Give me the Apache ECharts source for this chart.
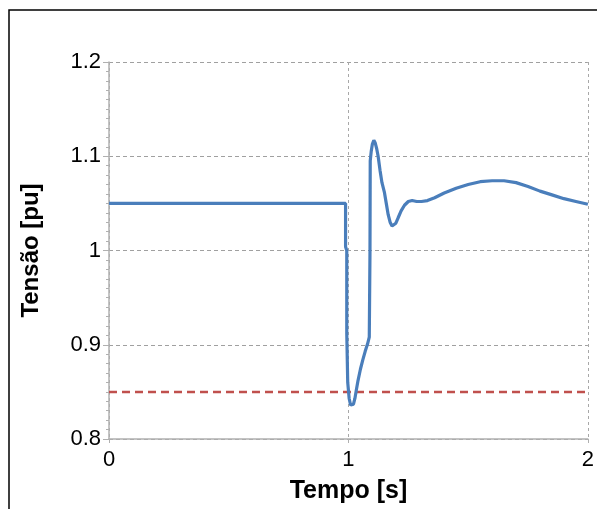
<!DOCTYPE html>
<html>
<head>
<meta charset="utf-8">
<script src="https://cdn.jsdelivr.net/npm/echarts@6/dist/echarts.min.js"></script>
<style>
  html, body { margin: 0; padding: 0; background: #fff; }
  #chart { width: 597px; height: 509px; }
</style>
</head>
<body>
<div id="chart"></div>
<script>
// Voltage response at the bus: time [s] and voltage [pu]
const tempo = [
  0, 0.988, 0.988, 0.993, 0.993, 0.997, 1.003, 1.009, 1.015, 1.021, 1.027, 1.033,
  1.040, 1.050, 1.060, 1.070, 1.080, 1.087, 1.090, 1.091, 1.095, 1.100, 1.106,
  1.112, 1.118, 1.124, 1.132, 1.140, 1.150, 1.158, 1.166, 1.174, 1.182, 1.190,
  1.198, 1.208, 1.220, 1.234, 1.250, 1.266, 1.285, 1.305, 1.330, 1.360, 1.400,
  1.450, 1.500, 1.550, 1.600, 1.650, 1.700, 1.750, 1.800, 1.850, 1.900, 1.950, 2.000
];
const tensao = [
  1.050, 1.050, 1.004, 1.000, 0.912, 0.860, 0.843, 0.836, 0.834, 0.837, 0.843, 0.852,
  0.862, 0.874, 0.884, 0.893, 0.901, 0.908, 1.000, 1.095, 1.105, 1.113, 1.117,
  1.114, 1.108, 1.100, 1.085, 1.072, 1.062, 1.050, 1.038, 1.030, 1.026, 1.026,
  1.029, 1.035, 1.042, 1.048, 1.052, 1.053, 1.052, 1.052, 1.053, 1.056, 1.061,
  1.066, 1.070, 1.073, 1.074, 1.074, 1.072, 1.068, 1.063, 1.059, 1.055, 1.052, 1.049
];
// Lower voltage limit
const limiteTempo = [0, 2];
const limiteTensao = [0.85, 0.85];

const xTicks = { min: 0, max: 2, interval: 1 };
const yTicks = { min: 0.8, max: 1.2, interval: 0.1 };

const curva = tempo.map((t, i) => [t, tensao[i]]);
const limite = limiteTempo.map((t, i) => [t, limiteTensao[i]]);

const FONT = '"Liberation Sans", Arial, sans-serif';
const chart = echarts.init(document.getElementById('chart'), null, { renderer: 'canvas' });

chart.setOption({
  animation: false,
  backgroundColor: '#fff',
  graphic: [{
    type: 'rect',
    shape: { x: 9, y: 10, width: 700, height: 600 },
    style: { fill: 'none', stroke: '#000', lineWidth: 1.5 },
    z: 0
  }],
  grid: { left: 109, right: 5, top: 62, bottom: 67 },
  xAxis: {
    type: 'value',
    min: xTicks.min, max: xTicks.max, interval: xTicks.interval,
    name: 'Tempo [s]',
    nameLocation: 'middle',
    nameGap: 40,
    nameTextStyle: { fontFamily: FONT, fontSize: 25, fontWeight: 'bold', color: '#000' },
    axisLine: { show: true, lineStyle: { color: '#b0b0b0', width: 1.5 } },
    axisTick: { show: true, length: 4, lineStyle: { color: '#b0b0b0' } },
    axisLabel: { fontFamily: FONT, fontSize: 22, color: '#000', margin: 10 },
    splitLine: { show: true, lineStyle: { color: '#a8a8a8', type: [3, 3], width: 1 } }
  },
  yAxis: {
    type: 'value',
    min: yTicks.min, max: yTicks.max, interval: yTicks.interval,
    name: 'Tensão [pu]',
    nameLocation: 'middle',
    nameGap: 66,
    nameTextStyle: { fontFamily: FONT, fontSize: 24, fontWeight: 'bold', color: '#000' },
    axisLine: { show: true, lineStyle: { color: '#b0b0b0', width: 1.5 } },
    axisTick: { show: true, length: 6, lineStyle: { color: '#b0b0b0' } },
    minorTick: { show: true, splitNumber: 10, length: 3, lineStyle: { color: '#b0b0b0' } },
    axisLabel: { fontFamily: FONT, fontSize: 22, color: '#000', margin: 8 },
    splitLine: { show: true, lineStyle: { color: '#a0a0a0', type: [4, 3], width: 1 } }
  },
  series: [
    {
      type: 'line',
      data: limite,
      symbol: 'none',
      lineStyle: { color: '#c0504d', width: 2.5, type: [8, 5] },
      z: 2
    },
    {
      type: 'line',
      data: curva,
      symbol: 'none',
      smooth: false,
      lineStyle: { color: '#4a7ebb', width: 3.2 },
      z: 3
    }
  ]
});
</script>
</body>
</html>
